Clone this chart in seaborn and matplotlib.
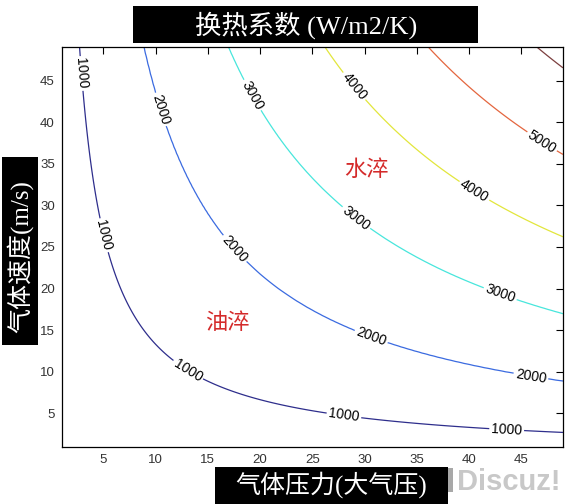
import numpy as np
import matplotlib
matplotlib.use("Agg")
import matplotlib.pyplot as plt
from matplotlib.patches import Rectangle
import seaborn as sns

# ---------------- data ----------------
contour_levels = [1000, 2000, 3000, 4000, 5000, 6000]      # W/m2/K
# product (pressure * velocity) along each contour line
contour_pv = [133, 435, 832, 1285, 1770, 2280]
line_colors = ["#2e2e8c", "#3b6be0", "#48e6dc", "#e2e63c", "#e4663f", "#7c3f3f"]
pressure_range = [1, 49]      # atm
velocity_range = [1, 49]      # m/s
xticks = [5, 10, 15, 20, 25, 30, 35, 40, 45]
yticks = [5, 10, 15, 20, 25, 30, 35, 40, 45]
labelled_levels = [1000, 2000, 3000, 4000, 5000]
label_positions = [
    (2.4, 45.8), (4.7, 26.3), (12.7, 9.4), (28.0, 4.5), (43.6, 2.85),
    (10.1, 41.4), (17.3, 24.5), (30.6, 14.1), (45.9, 9.2),
    (18.9, 43.0), (29.2, 28.5), (42.8, 18.7),
    (28.7, 44.0), (40.3, 31.3),
    (46.7, 37.1),
]
region_labels = ["水淬", "油淬"]
region_pos = [(30.2, 34.3), (16.9, 15.9)]

title_text = "换热系数 (W/m2/K)"
xlabel_text = "气体压力(大气压)"
ylabel_text = "气体速度(m/s)"

# ---------------- field built from the read contour values ----------------
x = np.array(contour_pv, float)
y = np.array(contour_levels, float)
ls = (y[1] - y[0]) / (x[1] - x[0])
rs = (y[-1] - y[-2]) / (x[-1] - x[-2])
xk = np.concatenate([[0.0], x, [3000.0]])
yk = np.concatenate([[y[0] - ls * x[0]], y, [y[-1] + rs * (3000.0 - x[-1])]])

P = np.linspace(pressure_range[0], pressure_range[1], 193)
V = np.linspace(velocity_range[0], velocity_range[1], 193)
PP, VV = np.meshgrid(P, V)
Z = np.interp(PP * VV, xk, yk)

# ---------------- plotting ----------------
sns.set_theme(style="white")
plt.rcParams["font.family"] = ["Liberation Sans", "Noto Sans CJK SC", "DejaVu Sans"]

fig = plt.figure(figsize=(5.78, 5.04), dpi=100)
fig.patch.set_facecolor("white")
ax = fig.add_axes([0.1067, 0.1137, 0.8673, 0.7925])

cs = ax.contour(PP, VV, Z, levels=contour_levels, colors=line_colors, linewidths=0.9)
ax.clabel(cs, levels=labelled_levels, manual=label_positions, inline=True,
          fmt="%d", fontsize=10, colors="black", inline_spacing=2)

for txt, (px, py) in zip(region_labels, region_pos):
    ax.text(px, py, txt, color="#d42a2a", fontsize=16, ha="center", va="center",
            family=["Noto Sans CJK SC"])

ax.set_xlim(*pressure_range)
ax.set_ylim(*velocity_range)
ax.set_xticks(xticks)
ax.set_yticks(yticks)
ax.tick_params(direction="in", length=5, width=0.8, top=True, right=True,
               labelsize=9.5, labelcolor="#333333", color="black", pad=5)
for sp in ax.spines.values():
    sp.set_color("black")
    sp.set_linewidth(0.9)
ax.set_xlabel("")
ax.set_ylabel("")

serif_cjk = ["Liberation Serif", "Noto Sans CJK SC"]

# title box
fig.add_artist(Rectangle((133 / 578, 1 - 42.7 / 504), 345 / 578, 36.7 / 504,
                         transform=fig.transFigure, facecolor="black", edgecolor="none"))
fig.text(306 / 578, 1 - 25 / 504, title_text, color="white", fontsize=19,
         ha="center", va="center", family=serif_cjk)

# y label box
fig.add_artist(Rectangle((1.7 / 578, 1 - 345 / 504), 36 / 578, 188.3 / 504,
                         transform=fig.transFigure, facecolor="black", edgecolor="none"))
fig.text(20 / 578, 1 - 257 / 504, ylabel_text, color="white", fontsize=18,
         rotation=90, ha="center", va="center", family=serif_cjk)

# x label box
fig.add_artist(Rectangle((215 / 578, 0), 233.3 / 578, 36.7 / 504,
                         transform=fig.transFigure, facecolor="black", edgecolor="none"))
fig.text(331.5 / 578, 1 - 485 / 504, xlabel_text, color="white", fontsize=18,
         ha="center", va="center", family=serif_cjk)

# watermark
fig.add_artist(Rectangle((448.3 / 578, 1 - 492 / 504), 4.5 / 578, 24 / 504,
                         transform=fig.transFigure, facecolor="#a8a8a8", edgecolor="none"))
fig.text(457 / 578, 1 - 490 / 504, "Discuz!", color="#c8c8c8", fontsize=21,
         fontweight="bold", ha="left", va="baseline", family=["Liberation Sans"])

fig.savefig("out.png", dpi=100)
